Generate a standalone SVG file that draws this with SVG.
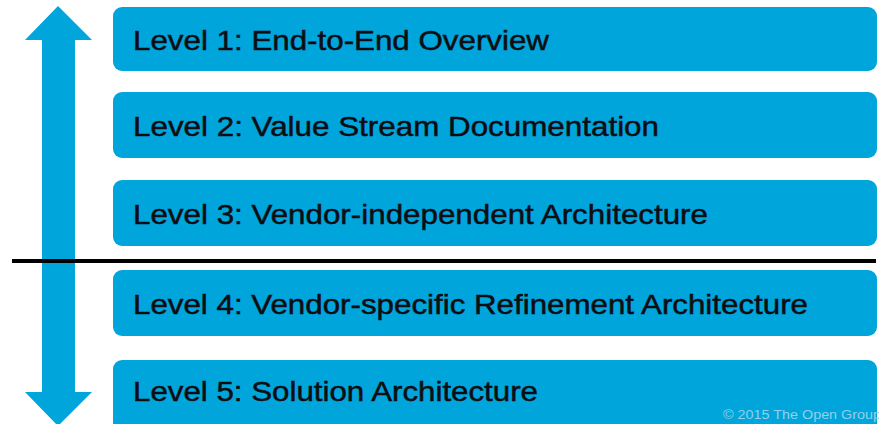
<svg xmlns="http://www.w3.org/2000/svg" width="879" height="424" viewBox="0 0 879 424">
<style>
.box{fill:#00a5dc}
.t{font-family:"Liberation Sans",Arial,sans-serif;font-size:28px;fill:#0d0d12;stroke:#0d0d12;stroke-width:0.5px}
.c{font-family:"Liberation Sans",Arial,sans-serif;font-size:12px;fill:#93d0e8}
</style>
<rect width="879" height="424" fill="#ffffff"/>
<g id="arrow">
<polygon class="box" points="58,6 92,40 75,40 75,392 92,392 58,426 25,392 42,392 42,40 25,40"/>
</g>
<g id="level1"><rect class="box" x="113" y="7" width="764" height="64" rx="9"/><text class="t" x="133" y="50" textLength="416" lengthAdjust="spacingAndGlyphs">Level 1: End-to-End Overview</text></g>
<g id="level2"><rect class="box" x="113" y="92" width="764" height="66" rx="9"/><text class="t" x="133" y="136" textLength="526" lengthAdjust="spacingAndGlyphs">Level 2: Value Stream Documentation</text></g>
<g id="level3"><rect class="box" x="113" y="180" width="764" height="66" rx="9"/><text class="t" x="133" y="224" textLength="575" lengthAdjust="spacingAndGlyphs">Level 3: Vendor-independent Architecture</text></g>
<g id="level4"><rect class="box" x="113" y="270" width="764" height="66" rx="9"/><text class="t" x="133" y="314" textLength="675" lengthAdjust="spacingAndGlyphs">Level 4: Vendor-specific Refinement Architecture</text></g>
<g id="level5"><rect class="box" x="113" y="360" width="764" height="74" rx="9"/><text class="t" x="133" y="401" textLength="405" lengthAdjust="spacingAndGlyphs">Level 5: Solution Architecture</text><text class="c" x="723" y="419" textLength="158" lengthAdjust="spacingAndGlyphs">© 2015 The Open Group</text></g>
<g id="connectors"><line x1="12" y1="261" x2="876" y2="261" stroke="#000" stroke-width="4"/></g>
</svg>
